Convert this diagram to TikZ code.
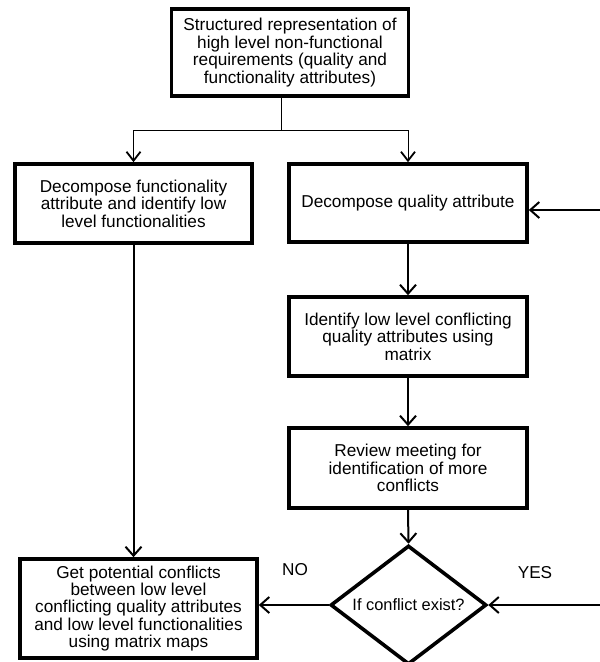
\documentclass[tikz,border=0pt]{standalone}
\usepackage{fontspec}
\setmainfont{Liberation Sans}
\usetikzlibrary{shapes.geometric,arrows.meta}
\tikzset{
  procbox/.style={draw=black, line width=3.6pt, fill=white, align=center, inner sep=0pt,
    font=\fontsize{17.2}{17.4}\selectfont},
  decbox/.style={draw=black, line width=3.6pt, fill=white, diamond, aspect=1.33, align=center, inner sep=0pt,
    minimum width=156pt, minimum height=119pt, font=\fontsize{16.4}{17.4}\selectfont},
  conn/.style={line width=2pt, -{Straight Barb[length=9pt,width=16pt,line width=2pt]}},
  thinconn/.style={line width=1pt},
  thinarrow/.style={line width=1pt, -{Straight Barb[length=9pt,width=14pt,line width=1.8pt]}},
  lbl/.style={font=\fontsize{17.2}{17.4}\selectfont, inner sep=0pt}
}
\begin{document}
\begin{tikzpicture}[x=1pt,y=-1pt]
\useasboundingbox (0,0) rectangle (600,662);
\node[procbox, minimum width=237pt, minimum height=87pt] (top) at (290,52.5)
  {Structured representation of\\high level non-functional\\requirements (quality and\\functionality attributes)};
\node[procbox, minimum width=237pt, minimum height=79pt] (lbox) at (133.5,203.5)
  {Decompose functionality\\attribute and identify low\\level functionalities};
\node[procbox, minimum width=238pt, minimum height=78pt] (rbox) at (408,203)
  {Decompose quality attribute};
\node[procbox, minimum width=238pt, minimum height=79pt] (idbox) at (408,336.5)
  {Identify low level conflicting\\quality attributes using\\matrix};
\node[procbox, minimum width=238pt, minimum height=80pt] (review) at (408,468)
  {Review meeting for\\identification of more\\conflicts};
\node[decbox] (dia) at (408.5,605) {If conflict exist?};
\node[procbox, minimum width=237pt, minimum height=99pt] (gbox) at (138.5,608.5)
  {Get potential conflicts\\between low level\\conflicting quality attributes\\and low level functionalities\\using matrix maps};
\node[lbl] (no) at (295,570) {NO};
\node[lbl] (yes) at (535,573) {YES};
\coordinate (j) at (281,130);
\coordinate (fb) at (600,210);
\coordinate (yb) at (600,605);
\draw[thinconn] (j |- top.south) -- (j);
\draw[thinarrow] (j) -| (lbox.north);
\draw[thinarrow] (j) -| (rbox.north);
\draw[conn] (rbox.south) -- (idbox.north);
\draw[conn] (idbox.south) -- (review.north);
\draw[conn] (review.south) -- (dia.north);
\draw[conn] (lbox.south) -- (lbox.south |- gbox.north);
\draw[conn] (dia.west) -- (dia.west -| gbox.east);
\draw[conn] (yb) -- (dia.east);
\draw[conn] (fb) -- (fb -| rbox.east);
\end{tikzpicture}
\end{document}
